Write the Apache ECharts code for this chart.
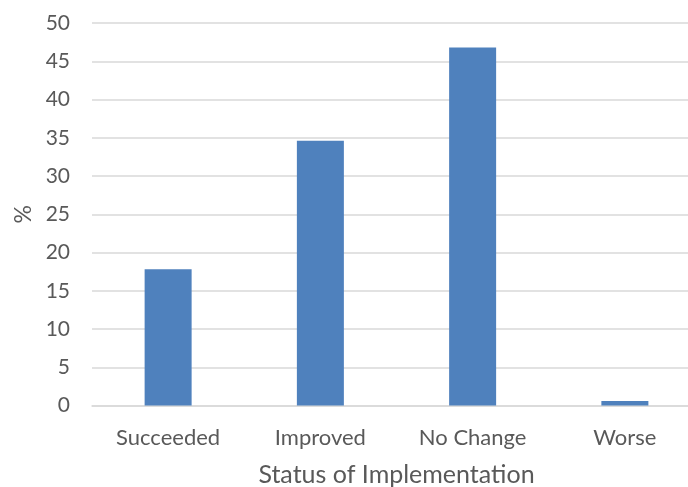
<!DOCTYPE html>
<html>
<head>
<meta charset="utf-8">
<script src="https://cdn.jsdelivr.net/npm/echarts@6/dist/echarts.min.js"></script>
<style>
  html, body { margin: 0; padding: 0; background: #fff; overflow: hidden; }
  #wrap { width: 688px; height: 487px; overflow: hidden; }
  #chart { width: 712px; height: 487px; }
</style>
</head>
<body>
<div id="wrap"><div id="chart"></div></div>
<script>
var categories = ['Succeeded', 'Improved', 'No Change', 'Worse'];
var values = [17.8, 34.6, 46.8, 0.6];
var yTicks = [0, 50, 5];

var chart = echarts.init(document.getElementById('chart'));
var option = {
	animation: false,
	grid: {
		left: 92,
		top: 23,
		width: 609,
		height: 382.5,
		outerBoundsMode: 'none',
		containLabel: false
	},
	xAxis: {
		type: 'category',
		data: categories,
		name: 'Status of Implementation',
		nameLocation: 'middle',
		nameGap: 57,
		nameTextStyle: { fontFamily: 'Lato', fontSize: 25, color: '#595959' },
		axisLine: { show: true, lineStyle: { color: '#d9d9d9', width: 1.5 } },
		axisTick: { show: false },
		axisLabel: { fontFamily: 'Lato', fontSize: 22, color: '#595959', margin: 21 }
	},
	yAxis: {
		type: 'value',
		min: yTicks[0],
		max: yTicks[1],
		interval: yTicks[2],
		name: '%',
		nameLocation: 'middle',
		nameGap: 57,
		nameRotate: 90,
		nameTextStyle: { fontFamily: 'Lato', fontSize: 23, color: '#595959' },
		axisLine: { show: false },
		axisTick: { show: false },
		axisLabel: { fontFamily: 'Lato', fontSize: 21, color: '#595959', margin: 22 },
		splitLine: { lineStyle: { color: '#d9d9d9', width: 1.5 } }
	},
	series: [{
		type: 'bar',
		data: values,
		barWidth: 47,
		itemStyle: { color: '#4f81bd' }
	}]
};
chart.setOption(option);
</script>
</body>
</html>
